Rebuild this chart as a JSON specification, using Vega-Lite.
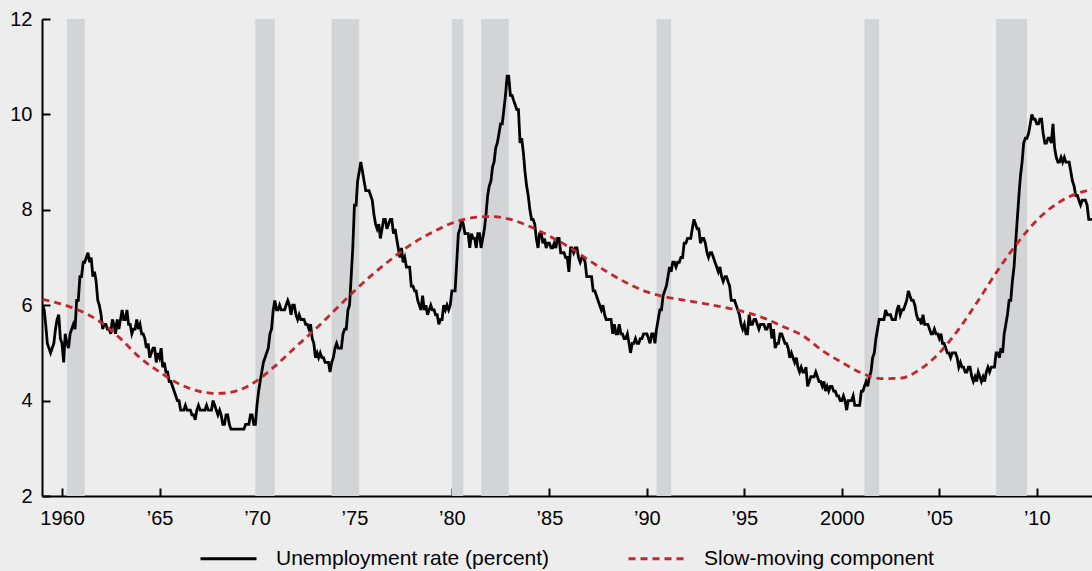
{
"$schema": "https://vega.github.io/schema/vega-lite/v6.json",
"width": 1050, "height": 477,
"autosize": {"type": "none"},
"padding": {"left": 42, "top": 19, "right": 0, "bottom": 75},
"background": "#ededed",
"config": {"view": {"stroke": null}, "font": "Liberation Sans",
 "axis": {"domainColor": "#000", "domainWidth": 2, "tickColor": "#000", "tickWidth": 2, "tickSize": -8, "labelColor": "#000", "labelFontSize": 20, "labelFont": "Liberation Sans", "grid": false, "title": null}},
"layer": [
{"data": {"values": [
{"s":"1960-04","e":"1961-03"},{"s":"1969-12","e":"1970-12"},{"s":"1973-11","e":"1975-04"},{"s":"1980-01","e":"1980-08"},{"s":"1981-07","e":"1982-12"},{"s":"1990-07","e":"1991-04"},{"s":"2001-03","e":"2001-12"},{"s":"2007-12","e":"2009-07"}],
 "format": {"parse": {"s": "date:'%Y-%m'", "e": "date:'%Y-%m'"}}},
 "mark": {"type": "rect", "color": "#d3d4d6"},
 "encoding": {
  "x": {"field": "s", "type": "temporal", "scale": {"domain": [{"year":1958,"month":12,"date":22},{"year":2012,"month":11,"date":1}]},
   "axis": {"values": [{"year":1960},{"year":1965},{"year":1970},{"year":1975},{"year":1980},{"year":1985},{"year":1990},{"year":1995},{"year":2000},{"year":2005},{"year":2010}],
    "labelExpr": "year(datum.value) == 1960 || year(datum.value) == 2000 ? timeFormat(datum.value, '%Y') : '’' + timeFormat(datum.value, '%y')", "labelPadding": 20}},
  "x2": {"field": "e"}}},
{"data": {"values": [
{"d":"1959-01","v":6.0},{"d":"1959-02","v":5.9},{"d":"1959-03","v":5.6},{"d":"1959-04","v":5.2},{"d":"1959-05","v":5.1},{"d":"1959-06","v":5.0},{"d":"1959-07","v":5.1},{"d":"1959-08","v":5.2},{"d":"1959-09","v":5.5},{"d":"1959-10","v":5.7},{"d":"1959-11","v":5.8},{"d":"1959-12","v":5.3},
{"d":"1960-01","v":5.2},{"d":"1960-02","v":4.8},{"d":"1960-03","v":5.4},{"d":"1960-04","v":5.2},{"d":"1960-05","v":5.1},{"d":"1960-06","v":5.4},{"d":"1960-07","v":5.5},{"d":"1960-08","v":5.6},{"d":"1960-09","v":5.5},{"d":"1960-10","v":6.1},{"d":"1960-11","v":6.1},{"d":"1960-12","v":6.6},
{"d":"1961-01","v":6.6},{"d":"1961-02","v":6.9},{"d":"1961-03","v":6.9},{"d":"1961-04","v":7.0},{"d":"1961-05","v":7.1},{"d":"1961-06","v":6.9},{"d":"1961-07","v":7.0},{"d":"1961-08","v":6.6},{"d":"1961-09","v":6.7},{"d":"1961-10","v":6.5},{"d":"1961-11","v":6.1},{"d":"1961-12","v":6.0},
{"d":"1962-01","v":5.8},{"d":"1962-02","v":5.5},{"d":"1962-03","v":5.6},{"d":"1962-04","v":5.6},{"d":"1962-05","v":5.5},{"d":"1962-06","v":5.5},{"d":"1962-07","v":5.4},{"d":"1962-08","v":5.7},{"d":"1962-09","v":5.6},{"d":"1962-10","v":5.4},{"d":"1962-11","v":5.7},{"d":"1962-12","v":5.5},
{"d":"1963-01","v":5.7},{"d":"1963-02","v":5.9},{"d":"1963-03","v":5.7},{"d":"1963-04","v":5.7},{"d":"1963-05","v":5.9},{"d":"1963-06","v":5.6},{"d":"1963-07","v":5.6},{"d":"1963-08","v":5.4},{"d":"1963-09","v":5.5},{"d":"1963-10","v":5.5},{"d":"1963-11","v":5.7},{"d":"1963-12","v":5.5},
{"d":"1964-01","v":5.6},{"d":"1964-02","v":5.4},{"d":"1964-03","v":5.4},{"d":"1964-04","v":5.3},{"d":"1964-05","v":5.1},{"d":"1964-06","v":5.2},{"d":"1964-07","v":4.9},{"d":"1964-08","v":5.0},{"d":"1964-09","v":5.1},{"d":"1964-10","v":5.1},{"d":"1964-11","v":4.8},{"d":"1964-12","v":5.0},
{"d":"1965-01","v":4.9},{"d":"1965-02","v":5.1},{"d":"1965-03","v":4.7},{"d":"1965-04","v":4.8},{"d":"1965-05","v":4.6},{"d":"1965-06","v":4.6},{"d":"1965-07","v":4.4},{"d":"1965-08","v":4.4},{"d":"1965-09","v":4.3},{"d":"1965-10","v":4.2},{"d":"1965-11","v":4.1},{"d":"1965-12","v":4.0},
{"d":"1966-01","v":4.0},{"d":"1966-02","v":3.8},{"d":"1966-03","v":3.8},{"d":"1966-04","v":3.8},{"d":"1966-05","v":3.9},{"d":"1966-06","v":3.8},{"d":"1966-07","v":3.8},{"d":"1966-08","v":3.8},{"d":"1966-09","v":3.7},{"d":"1966-10","v":3.7},{"d":"1966-11","v":3.6},{"d":"1966-12","v":3.8},
{"d":"1967-01","v":3.9},{"d":"1967-02","v":3.8},{"d":"1967-03","v":3.8},{"d":"1967-04","v":3.8},{"d":"1967-05","v":3.8},{"d":"1967-06","v":3.9},{"d":"1967-07","v":3.8},{"d":"1967-08","v":3.8},{"d":"1967-09","v":3.8},{"d":"1967-10","v":4.0},{"d":"1967-11","v":3.9},{"d":"1967-12","v":3.8},
{"d":"1968-01","v":3.7},{"d":"1968-02","v":3.8},{"d":"1968-03","v":3.7},{"d":"1968-04","v":3.5},{"d":"1968-05","v":3.5},{"d":"1968-06","v":3.7},{"d":"1968-07","v":3.7},{"d":"1968-08","v":3.5},{"d":"1968-09","v":3.4},{"d":"1968-10","v":3.4},{"d":"1968-11","v":3.4},{"d":"1968-12","v":3.4},
{"d":"1969-01","v":3.4},{"d":"1969-02","v":3.4},{"d":"1969-03","v":3.4},{"d":"1969-04","v":3.4},{"d":"1969-05","v":3.4},{"d":"1969-06","v":3.5},{"d":"1969-07","v":3.5},{"d":"1969-08","v":3.5},{"d":"1969-09","v":3.7},{"d":"1969-10","v":3.7},{"d":"1969-11","v":3.5},{"d":"1969-12","v":3.5},
{"d":"1970-01","v":3.9},{"d":"1970-02","v":4.2},{"d":"1970-03","v":4.4},{"d":"1970-04","v":4.6},{"d":"1970-05","v":4.8},{"d":"1970-06","v":4.9},{"d":"1970-07","v":5.0},{"d":"1970-08","v":5.1},{"d":"1970-09","v":5.4},{"d":"1970-10","v":5.5},{"d":"1970-11","v":5.9},{"d":"1970-12","v":6.1},
{"d":"1971-01","v":5.9},{"d":"1971-02","v":5.9},{"d":"1971-03","v":6.0},{"d":"1971-04","v":5.9},{"d":"1971-05","v":5.9},{"d":"1971-06","v":5.9},{"d":"1971-07","v":6.0},{"d":"1971-08","v":6.1},{"d":"1971-09","v":6.0},{"d":"1971-10","v":5.8},{"d":"1971-11","v":6.0},{"d":"1971-12","v":6.0},
{"d":"1972-01","v":5.8},{"d":"1972-02","v":5.7},{"d":"1972-03","v":5.8},{"d":"1972-04","v":5.7},{"d":"1972-05","v":5.7},{"d":"1972-06","v":5.7},{"d":"1972-07","v":5.6},{"d":"1972-08","v":5.6},{"d":"1972-09","v":5.5},{"d":"1972-10","v":5.6},{"d":"1972-11","v":5.3},{"d":"1972-12","v":5.2},
{"d":"1973-01","v":4.9},{"d":"1973-02","v":5.0},{"d":"1973-03","v":4.9},{"d":"1973-04","v":5.0},{"d":"1973-05","v":4.9},{"d":"1973-06","v":4.9},{"d":"1973-07","v":4.8},{"d":"1973-08","v":4.8},{"d":"1973-09","v":4.8},{"d":"1973-10","v":4.6},{"d":"1973-11","v":4.8},{"d":"1973-12","v":4.9},
{"d":"1974-01","v":5.1},{"d":"1974-02","v":5.2},{"d":"1974-03","v":5.1},{"d":"1974-04","v":5.1},{"d":"1974-05","v":5.1},{"d":"1974-06","v":5.4},{"d":"1974-07","v":5.5},{"d":"1974-08","v":5.5},{"d":"1974-09","v":5.9},{"d":"1974-10","v":6.0},{"d":"1974-11","v":6.6},{"d":"1974-12","v":7.2},
{"d":"1975-01","v":8.1},{"d":"1975-02","v":8.1},{"d":"1975-03","v":8.6},{"d":"1975-04","v":8.8},{"d":"1975-05","v":9.0},{"d":"1975-06","v":8.8},{"d":"1975-07","v":8.6},{"d":"1975-08","v":8.4},{"d":"1975-09","v":8.4},{"d":"1975-10","v":8.4},{"d":"1975-11","v":8.3},{"d":"1975-12","v":8.2},
{"d":"1976-01","v":7.9},{"d":"1976-02","v":7.7},{"d":"1976-03","v":7.6},{"d":"1976-04","v":7.7},{"d":"1976-05","v":7.4},{"d":"1976-06","v":7.6},{"d":"1976-07","v":7.8},{"d":"1976-08","v":7.8},{"d":"1976-09","v":7.6},{"d":"1976-10","v":7.7},{"d":"1976-11","v":7.8},{"d":"1976-12","v":7.8},
{"d":"1977-01","v":7.5},{"d":"1977-02","v":7.6},{"d":"1977-03","v":7.4},{"d":"1977-04","v":7.2},{"d":"1977-05","v":7.0},{"d":"1977-06","v":7.2},{"d":"1977-07","v":6.9},{"d":"1977-08","v":7.0},{"d":"1977-09","v":6.8},{"d":"1977-10","v":6.8},{"d":"1977-11","v":6.8},{"d":"1977-12","v":6.4},
{"d":"1978-01","v":6.4},{"d":"1978-02","v":6.3},{"d":"1978-03","v":6.3},{"d":"1978-04","v":6.1},{"d":"1978-05","v":6.0},{"d":"1978-06","v":5.9},{"d":"1978-07","v":6.2},{"d":"1978-08","v":5.9},{"d":"1978-09","v":6.0},{"d":"1978-10","v":5.8},{"d":"1978-11","v":5.9},{"d":"1978-12","v":6.0},
{"d":"1979-01","v":5.9},{"d":"1979-02","v":5.9},{"d":"1979-03","v":5.8},{"d":"1979-04","v":5.8},{"d":"1979-05","v":5.6},{"d":"1979-06","v":5.7},{"d":"1979-07","v":5.7},{"d":"1979-08","v":6.0},{"d":"1979-09","v":5.9},{"d":"1979-10","v":6.0},{"d":"1979-11","v":5.9},{"d":"1979-12","v":6.0},
{"d":"1980-01","v":6.3},{"d":"1980-02","v":6.3},{"d":"1980-03","v":6.3},{"d":"1980-04","v":6.9},{"d":"1980-05","v":7.5},{"d":"1980-06","v":7.6},{"d":"1980-07","v":7.8},{"d":"1980-08","v":7.7},{"d":"1980-09","v":7.5},{"d":"1980-10","v":7.5},{"d":"1980-11","v":7.5},{"d":"1980-12","v":7.2},
{"d":"1981-01","v":7.5},{"d":"1981-02","v":7.4},{"d":"1981-03","v":7.4},{"d":"1981-04","v":7.2},{"d":"1981-05","v":7.5},{"d":"1981-06","v":7.5},{"d":"1981-07","v":7.2},{"d":"1981-08","v":7.4},{"d":"1981-09","v":7.6},{"d":"1981-10","v":7.9},{"d":"1981-11","v":8.3},{"d":"1981-12","v":8.5},
{"d":"1982-01","v":8.6},{"d":"1982-02","v":8.9},{"d":"1982-03","v":9.0},{"d":"1982-04","v":9.3},{"d":"1982-05","v":9.4},{"d":"1982-06","v":9.6},{"d":"1982-07","v":9.8},{"d":"1982-08","v":9.8},{"d":"1982-09","v":10.1},{"d":"1982-10","v":10.4},{"d":"1982-11","v":10.8},{"d":"1982-12","v":10.8},
{"d":"1983-01","v":10.4},{"d":"1983-02","v":10.4},{"d":"1983-03","v":10.3},{"d":"1983-04","v":10.2},{"d":"1983-05","v":10.1},{"d":"1983-06","v":10.1},{"d":"1983-07","v":9.4},{"d":"1983-08","v":9.5},{"d":"1983-09","v":9.2},{"d":"1983-10","v":8.8},{"d":"1983-11","v":8.5},{"d":"1983-12","v":8.3},
{"d":"1984-01","v":8.0},{"d":"1984-02","v":7.8},{"d":"1984-03","v":7.8},{"d":"1984-04","v":7.7},{"d":"1984-05","v":7.4},{"d":"1984-06","v":7.2},{"d":"1984-07","v":7.5},{"d":"1984-08","v":7.5},{"d":"1984-09","v":7.3},{"d":"1984-10","v":7.4},{"d":"1984-11","v":7.2},{"d":"1984-12","v":7.3},
{"d":"1985-01","v":7.3},{"d":"1985-02","v":7.2},{"d":"1985-03","v":7.2},{"d":"1985-04","v":7.3},{"d":"1985-05","v":7.2},{"d":"1985-06","v":7.4},{"d":"1985-07","v":7.4},{"d":"1985-08","v":7.1},{"d":"1985-09","v":7.1},{"d":"1985-10","v":7.1},{"d":"1985-11","v":7.0},{"d":"1985-12","v":7.0},
{"d":"1986-01","v":6.7},{"d":"1986-02","v":7.2},{"d":"1986-03","v":7.2},{"d":"1986-04","v":7.1},{"d":"1986-05","v":7.2},{"d":"1986-06","v":7.2},{"d":"1986-07","v":7.0},{"d":"1986-08","v":6.9},{"d":"1986-09","v":7.0},{"d":"1986-10","v":7.0},{"d":"1986-11","v":6.9},{"d":"1986-12","v":6.6},
{"d":"1987-01","v":6.6},{"d":"1987-02","v":6.6},{"d":"1987-03","v":6.6},{"d":"1987-04","v":6.3},{"d":"1987-05","v":6.3},{"d":"1987-06","v":6.2},{"d":"1987-07","v":6.1},{"d":"1987-08","v":6.0},{"d":"1987-09","v":5.9},{"d":"1987-10","v":6.0},{"d":"1987-11","v":5.8},{"d":"1987-12","v":5.7},
{"d":"1988-01","v":5.7},{"d":"1988-02","v":5.7},{"d":"1988-03","v":5.7},{"d":"1988-04","v":5.4},{"d":"1988-05","v":5.6},{"d":"1988-06","v":5.4},{"d":"1988-07","v":5.4},{"d":"1988-08","v":5.6},{"d":"1988-09","v":5.4},{"d":"1988-10","v":5.4},{"d":"1988-11","v":5.3},{"d":"1988-12","v":5.3},
{"d":"1989-01","v":5.4},{"d":"1989-02","v":5.2},{"d":"1989-03","v":5.0},{"d":"1989-04","v":5.2},{"d":"1989-05","v":5.2},{"d":"1989-06","v":5.3},{"d":"1989-07","v":5.2},{"d":"1989-08","v":5.2},{"d":"1989-09","v":5.3},{"d":"1989-10","v":5.3},{"d":"1989-11","v":5.4},{"d":"1989-12","v":5.4},
{"d":"1990-01","v":5.4},{"d":"1990-02","v":5.3},{"d":"1990-03","v":5.2},{"d":"1990-04","v":5.4},{"d":"1990-05","v":5.4},{"d":"1990-06","v":5.2},{"d":"1990-07","v":5.5},{"d":"1990-08","v":5.7},{"d":"1990-09","v":5.9},{"d":"1990-10","v":5.9},{"d":"1990-11","v":6.2},{"d":"1990-12","v":6.3},
{"d":"1991-01","v":6.4},{"d":"1991-02","v":6.6},{"d":"1991-03","v":6.8},{"d":"1991-04","v":6.7},{"d":"1991-05","v":6.9},{"d":"1991-06","v":6.9},{"d":"1991-07","v":6.8},{"d":"1991-08","v":6.9},{"d":"1991-09","v":6.9},{"d":"1991-10","v":7.0},{"d":"1991-11","v":7.0},{"d":"1991-12","v":7.3},
{"d":"1992-01","v":7.3},{"d":"1992-02","v":7.4},{"d":"1992-03","v":7.4},{"d":"1992-04","v":7.4},{"d":"1992-05","v":7.6},{"d":"1992-06","v":7.8},{"d":"1992-07","v":7.7},{"d":"1992-08","v":7.6},{"d":"1992-09","v":7.6},{"d":"1992-10","v":7.3},{"d":"1992-11","v":7.4},{"d":"1992-12","v":7.4},
{"d":"1993-01","v":7.3},{"d":"1993-02","v":7.1},{"d":"1993-03","v":7.0},{"d":"1993-04","v":7.1},{"d":"1993-05","v":7.1},{"d":"1993-06","v":7.0},{"d":"1993-07","v":6.9},{"d":"1993-08","v":6.8},{"d":"1993-09","v":6.7},{"d":"1993-10","v":6.8},{"d":"1993-11","v":6.6},{"d":"1993-12","v":6.5},
{"d":"1994-01","v":6.6},{"d":"1994-02","v":6.6},{"d":"1994-03","v":6.5},{"d":"1994-04","v":6.4},{"d":"1994-05","v":6.1},{"d":"1994-06","v":6.1},{"d":"1994-07","v":6.1},{"d":"1994-08","v":6.0},{"d":"1994-09","v":5.9},{"d":"1994-10","v":5.8},{"d":"1994-11","v":5.6},{"d":"1994-12","v":5.5},
{"d":"1995-01","v":5.6},{"d":"1995-02","v":5.4},{"d":"1995-03","v":5.4},{"d":"1995-04","v":5.8},{"d":"1995-05","v":5.6},{"d":"1995-06","v":5.6},{"d":"1995-07","v":5.7},{"d":"1995-08","v":5.7},{"d":"1995-09","v":5.6},{"d":"1995-10","v":5.5},{"d":"1995-11","v":5.6},{"d":"1995-12","v":5.6},
{"d":"1996-01","v":5.6},{"d":"1996-02","v":5.5},{"d":"1996-03","v":5.5},{"d":"1996-04","v":5.6},{"d":"1996-05","v":5.6},{"d":"1996-06","v":5.3},{"d":"1996-07","v":5.5},{"d":"1996-08","v":5.1},{"d":"1996-09","v":5.2},{"d":"1996-10","v":5.2},{"d":"1996-11","v":5.4},{"d":"1996-12","v":5.4},
{"d":"1997-01","v":5.3},{"d":"1997-02","v":5.2},{"d":"1997-03","v":5.2},{"d":"1997-04","v":5.1},{"d":"1997-05","v":4.9},{"d":"1997-06","v":5.0},{"d":"1997-07","v":4.9},{"d":"1997-08","v":4.8},{"d":"1997-09","v":4.9},{"d":"1997-10","v":4.7},{"d":"1997-11","v":4.6},{"d":"1997-12","v":4.7},
{"d":"1998-01","v":4.6},{"d":"1998-02","v":4.6},{"d":"1998-03","v":4.7},{"d":"1998-04","v":4.3},{"d":"1998-05","v":4.4},{"d":"1998-06","v":4.5},{"d":"1998-07","v":4.5},{"d":"1998-08","v":4.5},{"d":"1998-09","v":4.6},{"d":"1998-10","v":4.5},{"d":"1998-11","v":4.4},{"d":"1998-12","v":4.4},
{"d":"1999-01","v":4.3},{"d":"1999-02","v":4.4},{"d":"1999-03","v":4.2},{"d":"1999-04","v":4.3},{"d":"1999-05","v":4.2},{"d":"1999-06","v":4.3},{"d":"1999-07","v":4.3},{"d":"1999-08","v":4.2},{"d":"1999-09","v":4.2},{"d":"1999-10","v":4.1},{"d":"1999-11","v":4.1},{"d":"1999-12","v":4.0},
{"d":"2000-01","v":4.0},{"d":"2000-02","v":4.1},{"d":"2000-03","v":4.0},{"d":"2000-04","v":3.8},{"d":"2000-05","v":4.0},{"d":"2000-06","v":4.0},{"d":"2000-07","v":4.0},{"d":"2000-08","v":4.1},{"d":"2000-09","v":3.9},{"d":"2000-10","v":3.9},{"d":"2000-11","v":3.9},{"d":"2000-12","v":3.9},
{"d":"2001-01","v":4.2},{"d":"2001-02","v":4.2},{"d":"2001-03","v":4.3},{"d":"2001-04","v":4.4},{"d":"2001-05","v":4.3},{"d":"2001-06","v":4.5},{"d":"2001-07","v":4.6},{"d":"2001-08","v":4.9},{"d":"2001-09","v":5.0},{"d":"2001-10","v":5.3},{"d":"2001-11","v":5.5},{"d":"2001-12","v":5.7},
{"d":"2002-01","v":5.7},{"d":"2002-02","v":5.7},{"d":"2002-03","v":5.7},{"d":"2002-04","v":5.9},{"d":"2002-05","v":5.8},{"d":"2002-06","v":5.8},{"d":"2002-07","v":5.8},{"d":"2002-08","v":5.7},{"d":"2002-09","v":5.7},{"d":"2002-10","v":5.7},{"d":"2002-11","v":5.9},{"d":"2002-12","v":6.0},
{"d":"2003-01","v":5.8},{"d":"2003-02","v":5.9},{"d":"2003-03","v":5.9},{"d":"2003-04","v":6.0},{"d":"2003-05","v":6.1},{"d":"2003-06","v":6.3},{"d":"2003-07","v":6.2},{"d":"2003-08","v":6.1},{"d":"2003-09","v":6.1},{"d":"2003-10","v":6.0},{"d":"2003-11","v":5.8},{"d":"2003-12","v":5.7},
{"d":"2004-01","v":5.7},{"d":"2004-02","v":5.6},{"d":"2004-03","v":5.8},{"d":"2004-04","v":5.6},{"d":"2004-05","v":5.6},{"d":"2004-06","v":5.6},{"d":"2004-07","v":5.5},{"d":"2004-08","v":5.4},{"d":"2004-09","v":5.4},{"d":"2004-10","v":5.5},{"d":"2004-11","v":5.4},{"d":"2004-12","v":5.4},
{"d":"2005-01","v":5.3},{"d":"2005-02","v":5.4},{"d":"2005-03","v":5.2},{"d":"2005-04","v":5.2},{"d":"2005-05","v":5.1},{"d":"2005-06","v":5.0},{"d":"2005-07","v":5.0},{"d":"2005-08","v":4.9},{"d":"2005-09","v":5.0},{"d":"2005-10","v":5.0},{"d":"2005-11","v":5.0},{"d":"2005-12","v":4.9},
{"d":"2006-01","v":4.7},{"d":"2006-02","v":4.8},{"d":"2006-03","v":4.7},{"d":"2006-04","v":4.7},{"d":"2006-05","v":4.6},{"d":"2006-06","v":4.6},{"d":"2006-07","v":4.7},{"d":"2006-08","v":4.7},{"d":"2006-09","v":4.5},{"d":"2006-10","v":4.4},{"d":"2006-11","v":4.5},{"d":"2006-12","v":4.4},
{"d":"2007-01","v":4.6},{"d":"2007-02","v":4.5},{"d":"2007-03","v":4.4},{"d":"2007-04","v":4.5},{"d":"2007-05","v":4.4},{"d":"2007-06","v":4.6},{"d":"2007-07","v":4.7},{"d":"2007-08","v":4.6},{"d":"2007-09","v":4.7},{"d":"2007-10","v":4.7},{"d":"2007-11","v":4.7},{"d":"2007-12","v":5.0},
{"d":"2008-01","v":5.0},{"d":"2008-02","v":4.9},{"d":"2008-03","v":5.1},{"d":"2008-04","v":5.0},{"d":"2008-05","v":5.4},{"d":"2008-06","v":5.6},{"d":"2008-07","v":5.8},{"d":"2008-08","v":6.1},{"d":"2008-09","v":6.1},{"d":"2008-10","v":6.5},{"d":"2008-11","v":6.8},{"d":"2008-12","v":7.3},
{"d":"2009-01","v":7.8},{"d":"2009-02","v":8.3},{"d":"2009-03","v":8.7},{"d":"2009-04","v":9.0},{"d":"2009-05","v":9.4},{"d":"2009-06","v":9.5},{"d":"2009-07","v":9.5},{"d":"2009-08","v":9.6},{"d":"2009-09","v":9.8},{"d":"2009-10","v":10.0},{"d":"2009-11","v":9.9},{"d":"2009-12","v":9.9},
{"d":"2010-01","v":9.8},{"d":"2010-02","v":9.8},{"d":"2010-03","v":9.9},{"d":"2010-04","v":9.9},{"d":"2010-05","v":9.6},{"d":"2010-06","v":9.4},{"d":"2010-07","v":9.4},{"d":"2010-08","v":9.5},{"d":"2010-09","v":9.5},{"d":"2010-10","v":9.4},{"d":"2010-11","v":9.8},{"d":"2010-12","v":9.3},
{"d":"2011-01","v":9.1},{"d":"2011-02","v":9.0},{"d":"2011-03","v":9.0},{"d":"2011-04","v":9.1},{"d":"2011-05","v":9.0},{"d":"2011-06","v":9.1},{"d":"2011-07","v":9.0},{"d":"2011-08","v":9.0},{"d":"2011-09","v":9.0},{"d":"2011-10","v":8.8},{"d":"2011-11","v":8.6},{"d":"2011-12","v":8.5},
{"d":"2012-01","v":8.3},{"d":"2012-02","v":8.3},{"d":"2012-03","v":8.2},{"d":"2012-04","v":8.1},{"d":"2012-05","v":8.2},{"d":"2012-06","v":8.2},{"d":"2012-07","v":8.2},{"d":"2012-08","v":8.1},{"d":"2012-09","v":7.8},{"d":"2012-10","v":7.8},{"d":"2012-11","v":7.8}],
 "format": {"parse": {"d": "date:'%Y-%m'"}}},
 "mark": {"type": "line", "strokeWidth": 2.8, "clip": true},
 "encoding": {
  "x": {"field": "d", "type": "temporal"},
  "y": {"field": "v", "type": "quantitative", "scale": {"domain": [2, 12], "nice": false, "zero": false}, "axis": {"values": [2,4,6,8,10,12], "labelPadding": 18}},
  "color": {"datum": "Unemployment rate (percent)", "scale": {"domain": ["Unemployment rate (percent)", "Slow-moving component"], "range": ["#000000", "#c1272d"]},
   "legend": {"orient": "none", "legendX": 157, "legendY": 510, "direction": "horizontal", "title": null, "padding": 0, "symbolType": "stroke", "symbolSize": 3136, "symbolStrokeWidth": 2.8, "labelFontSize": 21, "labelColor": "#000", "labelFont": "Liberation Sans", "labelLimit": 500, "labelOffset": 18, "columnPadding": 72}},
  "strokeDash": {"datum": "Unemployment rate (percent)", "scale": {"domain": ["Unemployment rate (percent)", "Slow-moving component"], "range": [[1, 0], [7, 5]]}}}},
{"data": {"values": [
{"d":"1959-01","v":6.12},{"d":"1960-01","v":6.02},{"d":"1961-01","v":5.87},{"d":"1962-01","v":5.64},{"d":"1963-01","v":5.3},{"d":"1964-01","v":4.9},{"d":"1965-01","v":4.6},{"d":"1966-01","v":4.35},{"d":"1967-01","v":4.2},{"d":"1968-01","v":4.15},{"d":"1969-01","v":4.21},{"d":"1970-01","v":4.42},{"d":"1971-01","v":4.75},{"d":"1972-01","v":5.13},{"d":"1973-01","v":5.5},{"d":"1974-01","v":5.9},{"d":"1975-01","v":6.3},{"d":"1976-01","v":6.67},{"d":"1977-01","v":7.0},{"d":"1978-01","v":7.3},{"d":"1979-01","v":7.53},{"d":"1980-01","v":7.72},{"d":"1981-01","v":7.83},{"d":"1982-01","v":7.86},{"d":"1983-01","v":7.8},{"d":"1984-01","v":7.65},{"d":"1985-01","v":7.45},{"d":"1986-01","v":7.22},{"d":"1987-01","v":6.95},{"d":"1988-01","v":6.69},{"d":"1989-01","v":6.46},{"d":"1990-01","v":6.28},{"d":"1991-01","v":6.17},{"d":"1992-01","v":6.1},{"d":"1993-01","v":6.03},{"d":"1994-01","v":5.95},{"d":"1995-01","v":5.86},{"d":"1996-01","v":5.73},{"d":"1997-01","v":5.55},{"d":"1998-01","v":5.36},{"d":"1999-01","v":5.05},{"d":"2000-01","v":4.8},{"d":"2001-01","v":4.58},{"d":"2002-01","v":4.46},{"d":"2003-01","v":4.47},{"d":"2004-01","v":4.65},{"d":"2005-01","v":5.0},{"d":"2006-01","v":5.5},{"d":"2007-01","v":6.1},{"d":"2008-01","v":6.73},{"d":"2009-01","v":7.3},{"d":"2010-01","v":7.78},{"d":"2011-01","v":8.12},{"d":"2012-01","v":8.33},{"d":"2012-11","v":8.43}],
 "format": {"parse": {"d": "date:'%Y-%m'"}}},
 "mark": {"type": "line", "strokeWidth": 2.8, "interpolate": "monotone", "clip": true},
 "encoding": {
  "x": {"field": "d", "type": "temporal"},
  "y": {"field": "v", "type": "quantitative"},
  "color": {"datum": "Slow-moving component"},
  "strokeDash": {"datum": "Slow-moving component"}}}
]
}
